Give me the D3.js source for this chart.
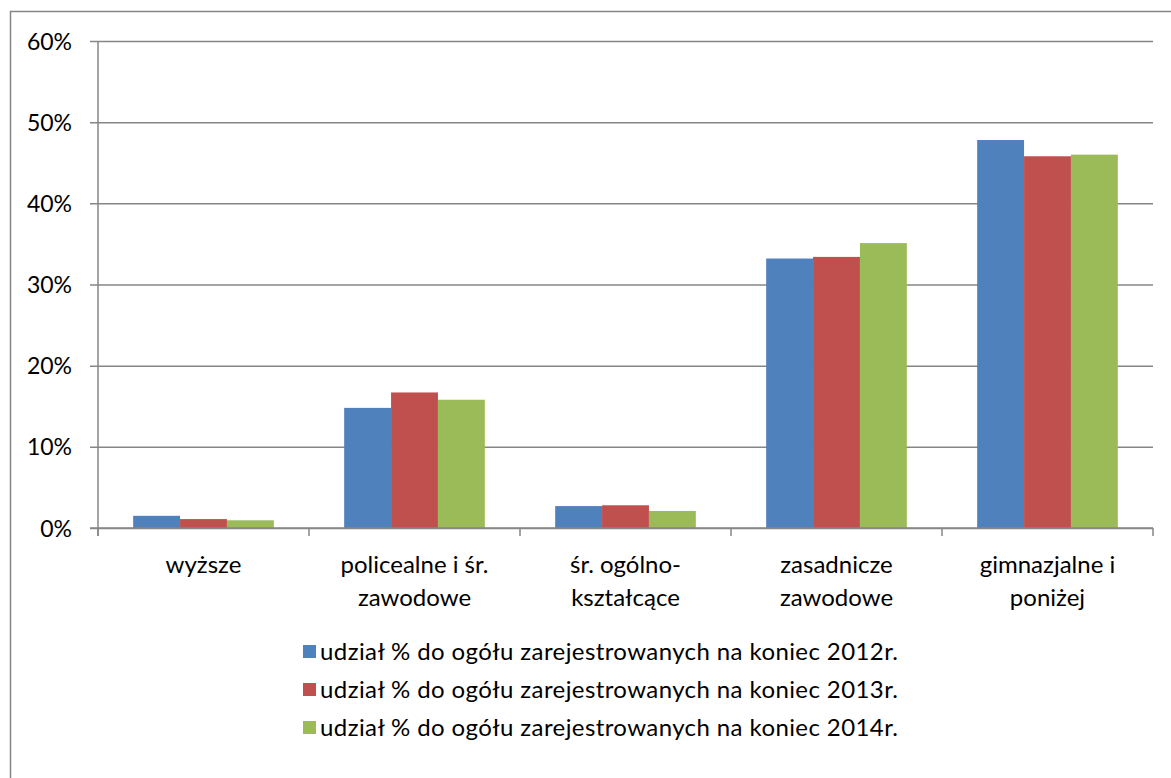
<!DOCTYPE html>
<html>
<head>
<meta charset="utf-8">
<script src="https://cdn.jsdelivr.net/npm/d3@7"></script>
<style>
    body { margin: 0; background: #fff; }
    text { font-family: Lato, "Open Sans", sans-serif; fill: #000; }
</style>
</head>
<body>
<script>
// chart data
var categories = [["wyższe"], ["policealne i śr.", "zawodowe"], ["śr. ogólno-", "kształcące"], ["zasadnicze", "zawodowe"], ["gimnazjalne i", "poniżej"]];
var seriesNames = [
    "udział % do ogółu zarejestrowanych na koniec 2012r.",
    "udział % do ogółu zarejestrowanych na koniec 2013r.",
    "udział % do ogółu zarejestrowanych na koniec 2014r."
];
var values2012 = [1.5, 14.8, 2.7, 33.2, 47.8];
var values2013 = [1.1, 16.7, 2.8, 33.4, 45.8];
var values2014 = [0.95, 15.8, 2.1, 35.1, 46.0];
var yTicks = [0, 10, 20, 30, 40, 50, 60];
var colors = ["#4F81BD", "#C0504D", "#9BBB59"];

function main() {

    var [width, height, svg, x, xInner, y] = prepChartVars()

    var series = [values2012, values2013, values2014]

    //chart border (bottom and right run past the frame)
    svg.append("rect")
        .attr("x", 10.5)
        .attr("y", 11.5)
        .attr("width", 1180)
        .attr("height", 800)
        .attr("fill", "none")
        .attr("stroke", "#868686")
        .attr("stroke-width", 1.5);

    //gridlines + y axis
    var yAxis = d3.axisLeft(y)
        .tickValues(yTicks)
        .tickSize(-(x.range()[1] - x.range()[0]))
        .tickPadding(26)
        .tickFormat(function (d) { return d + "%" });

    var yG = svg.append("g")
        .attr("transform", "translate(" + x.range()[0] + ",0)")
        .call(yAxis);
    yG.select(".domain").remove();
    yG.selectAll(".tick line")
        .attr("x1", -8)
        .attr("stroke", "#868686")
        .attr("stroke-width", 1.5);
    yG.selectAll(".tick text")
        .style("font-size", "23px")
        .attr("dy", "0.35em");

    //vertical axis line
    svg.append("line")
        .attr("x1", x.range()[0]).attr("x2", x.range()[0])
        .attr("y1", y(60)).attr("y2", y(0) + 8)
        .attr("stroke", "#868686")
        .attr("stroke-width", 1.5);

    //category tick marks
    var bounds = d3.range(categories.length + 1).map(function (i) { return x.range()[0] + i * x.step() });
    svg.selectAll(".catTick")
        .data(bounds)
        .enter()
        .append("line")
        .attr("x1", function (d) { return d }).attr("x2", function (d) { return d })
        .attr("y1", y(0)).attr("y2", y(0) + 8)
        .attr("stroke", "#868686")
        .attr("stroke-width", 1.5);

    //bars
    series.forEach(function (vals, s) {
        svg.selectAll(".bar" + s)
            .data(vals)
            .enter()
            .append("rect")
            .attr("x", function (d, i) { return x(i) + xInner(s) })
            .attr("y", function (d) { return y(d) })
            .attr("width", xInner.bandwidth())
            .attr("height", function (d) { return y(0) - y(d) })
            .attr("fill", colors[s]);
    });

    //redraw baseline over bars
    svg.append("line")
        .attr("x1", x.range()[0] - 8).attr("x2", x.range()[1])
        .attr("y1", y(0)).attr("y2", y(0))
        .attr("stroke", "#868686")
        .attr("stroke-width", 1.5);

    //category labels
    var labels = svg.selectAll(".catLabel")
        .data(categories)
        .enter()
        .append("text")
        .attr("text-anchor", "middle")
        .style("font-size", "24px")
        .attr("x", function (d, i) { return x(i) + x.step() / 2 });
    labels.selectAll("tspan")
        .data(function (d) { return d })
        .enter()
        .append("tspan")
        .attr("x", function () { return d3.select(this.parentNode).attr("x") })
        .attr("y", function (d, i) { return 573 + i * 33 })
        .text(function (d) { return d });

    //legend
    var legend = svg.selectAll(".legend")
        .data(seriesNames)
        .enter()
        .append("g")
        .attr("transform", function (d, i) { return "translate(303," + (652 + i * 38) + ")" });
    legend.append("rect")
        .attr("x", 0).attr("y", -7)
        .attr("width", 13).attr("height", 13)
        .attr("fill", function (d, i) { return colors[i] });
    legend.append("text")
        .attr("x", 17)
        .attr("dy", "0.35em")
        .style("font-size", "24px")
        .attr("textLength", 578)
        .text(function (d) { return d });
};

function prepChartVars() {
    var width = 1171,
        height = 778;

    var svg = d3.select("body")
        .append("svg")
        .attr("width", width)
        .attr("height", height);

    //one band per category, bars fill 3 of 4.5 parts (Excel gap 150%)
    var x = d3.scaleBand()
        .domain(d3.range(categories.length))
        .range([98, 1153]);

    var xInner = d3.scaleBand()
        .domain([0, 1, 2])
        .range([x.step() * 0.75 / 4.5, x.step() * 3.75 / 4.5]);

    var y = d3.scaleLinear()
        .domain([0, 60])
        .range([528, 41]);

    return [width, height, svg, x, xInner, y]
};

window.onload = main()
</script>
</body>
</html>
